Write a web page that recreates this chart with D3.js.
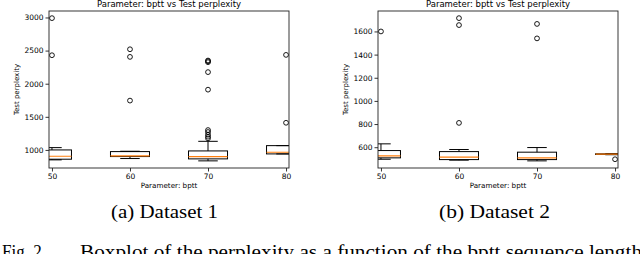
<!DOCTYPE html>
<html>
<head>
<meta charset="utf-8">
<script src="https://cdn.jsdelivr.net/npm/d3@7"></script>
<style>
  html, body { margin: 0; padding: 0; background: #fff; }
  svg { display: block; }
  text { font-family: "DejaVu Sans", sans-serif; fill: #000; }
  .caption { font-family: "Liberation Serif", "Times New Roman", serif; }
</style>
</head>
<body>
<div id="plot"></div>
<script>
// bptt values on the x axis
const positions = [50, 60, 70, 80];

// Dataset 1 box statistics
const d1WhiskerLow = [850, 870, 835, 940];
const d1Q1 = [860, 900, 865, 940];
const d1Median = [905, 910, 900, 965];
const d1Q3 = [1000, 975, 985, 1065];
const d1WhiskerHigh = [1035, 980, 1130, 1065];
const d1Outliers = [
  [2430, 2990],
  [1745, 2405, 2520],
  [1175, 1200, 1230, 1270, 1300, 1910, 2175, 2325, 2340, 2350],
  [1410, 2435]
];
const d1Ticks = [1000, 1500, 2000, 2500, 3000];

// Dataset 2 box statistics
const d2WhiskerLow = [496, 488, 482, 535];
const d2Q1 = [508, 493, 493, 537];
const d2Median = [525, 514, 508, 540];
const d2Q3 = [571, 562, 557, 543];
const d2WhiskerHigh = [629, 580, 597, 545];
const d2Outliers = [
  [1600],
  [810, 1655, 1715],
  [1540, 1665],
  [496]
];
const d2Ticks = [600, 800, 1000, 1200, 1400, 1600];

const xTicks = [50, 60, 70, 80];

const W = 640, H = 254;
const svg = d3.select("#plot").append("svg")
  .attr("width", W)
  .attr("height", H);

function drawPanel(id, left, lo, q1, med, q3, hi, outliers, yTicks) {
  const top = 11, bottom = 168, width = 240;

  const boxes = positions.map((p, i) => ({
    pos: p, lo: lo[i], q1: q1[i], med: med[i], q3: q3[i], hi: hi[i], out: outliers[i]
  }));

  // matplotlib style 5% margins
  const allVals = boxes.flatMap(b => [b.lo, b.hi, ...b.out]);
  const mn = d3.min(allVals), mx = d3.max(allVals);
  const pad = (mx - mn) * 0.05;

  const x = d3.scaleLinear().domain([49.62, 80.38]).range([left, left + width]);
  const y = d3.scaleLinear().domain([mn - pad, mx + pad]).range([bottom, top]);

  const g = svg.append("g");

  svg.append("clipPath").attr("id", "clip" + id)
    .append("rect")
    .attr("x", left).attr("y", top)
    .attr("width", width).attr("height", bottom - top);

  const marks = g.append("g").attr("clip-path", `url(#clip${id})`);
  const boxW = 5, capW = 2.5;

  boxes.forEach(b => {
    // whiskers
    marks.append("line")
      .attr("x1", x(b.pos)).attr("x2", x(b.pos))
      .attr("y1", y(b.q3)).attr("y2", y(b.hi))
      .attr("stroke", "#000").attr("stroke-width", 1);
    marks.append("line")
      .attr("x1", x(b.pos)).attr("x2", x(b.pos))
      .attr("y1", y(b.q1)).attr("y2", y(b.lo))
      .attr("stroke", "#000").attr("stroke-width", 1);
    [b.lo, b.hi].forEach(v => {
      marks.append("line")
        .attr("x1", x(b.pos - capW / 2)).attr("x2", x(b.pos + capW / 2))
        .attr("y1", y(v)).attr("y2", y(v))
        .attr("stroke", "#000").attr("stroke-width", 1);
    });
    // box
    marks.append("rect")
      .attr("x", x(b.pos - boxW / 2))
      .attr("y", y(b.q3))
      .attr("width", x(b.pos + boxW / 2) - x(b.pos - boxW / 2))
      .attr("height", Math.max(0, y(b.q1) - y(b.q3)))
      .attr("fill", "none")
      .attr("stroke", "#000").attr("stroke-width", 1);
    // median
    marks.append("line")
      .attr("x1", x(b.pos - boxW / 2)).attr("x2", x(b.pos + boxW / 2))
      .attr("y1", y(b.med)).attr("y2", y(b.med))
      .attr("stroke", "#ff7f0e").attr("stroke-width", 1.2);
    // fliers
    marks.selectAll(null).data(b.out).enter().append("circle")
      .attr("cx", x(b.pos))
      .attr("cy", d => y(d))
      .attr("r", 2.4)
      .attr("fill", "none")
      .attr("stroke", "#000").attr("stroke-width", 0.9);
  });

  // axes
  const xAxis = g.append("g")
    .attr("transform", `translate(0,${bottom})`)
    .call(d3.axisBottom(x).tickValues(xTicks).tickSize(3.5).tickPadding(2).tickFormat(d3.format("d")));
  const yAxis = g.append("g")
    .attr("transform", `translate(${left},0)`)
    .call(d3.axisLeft(y).tickValues(yTicks).tickSize(3.5).tickPadding(2).tickFormat(d3.format("d")));
  [xAxis, yAxis].forEach(a => {
    a.select(".domain").remove();
    a.selectAll("text").style("font-family", "DejaVu Sans").style("font-size", "7.5px").attr("fill", "#000");
    a.selectAll("line").attr("stroke", "#000").attr("stroke-width", 0.8);
  });

  // frame
  g.append("rect")
    .attr("x", left).attr("y", top)
    .attr("width", width).attr("height", bottom - top)
    .attr("fill", "none")
    .attr("stroke", "#222").attr("stroke-width", 0.9);

  // title
  g.append("text")
    .attr("x", left + width / 2).attr("y", 7)
    .attr("text-anchor", "middle")
    .style("font-size", "8.5px")
    .text("Parameter: bptt vs Test perplexity");

  // x label
  g.append("text")
    .attr("x", left + width / 2).attr("y", 187.5)
    .attr("text-anchor", "middle")
    .style("font-size", "7.2px")
    .text("Parameter: bptt");

  // y label
  g.append("text")
    .attr("transform", `translate(${left - 30},${(top + bottom) / 2}) rotate(-90)`)
    .attr("text-anchor", "middle")
    .style("font-size", "7px")
    .text("Test perplexity");
}

drawPanel("a", 49, d1WhiskerLow, d1Q1, d1Median, d1Q3, d1WhiskerHigh, d1Outliers, d1Ticks);
drawPanel("b", 378, d2WhiskerLow, d2Q1, d2Median, d2Q3, d2WhiskerHigh, d2Outliers, d2Ticks);

// sub captions
function caption(txt, x, y, len) {
  svg.append("text").attr("class", "caption")
    .attr("x", x).attr("y", y)
    .style("font-size", "18.5px")
    .attr("textLength", len)
    .attr("lengthAdjust", "spacingAndGlyphs")
    .text(txt);
}
caption("(a) Dataset 1", 111, 218, 107);
caption("(b) Dataset 2", 439, 218, 111);

// figure caption (cut by the bottom edge, as in the reference)
caption("Fig. 2.", 2, 258, 44);
caption("Boxplot of the perplexity as a function of the bptt sequence length", 80, 258, 562);
</script>
</body>
</html>
